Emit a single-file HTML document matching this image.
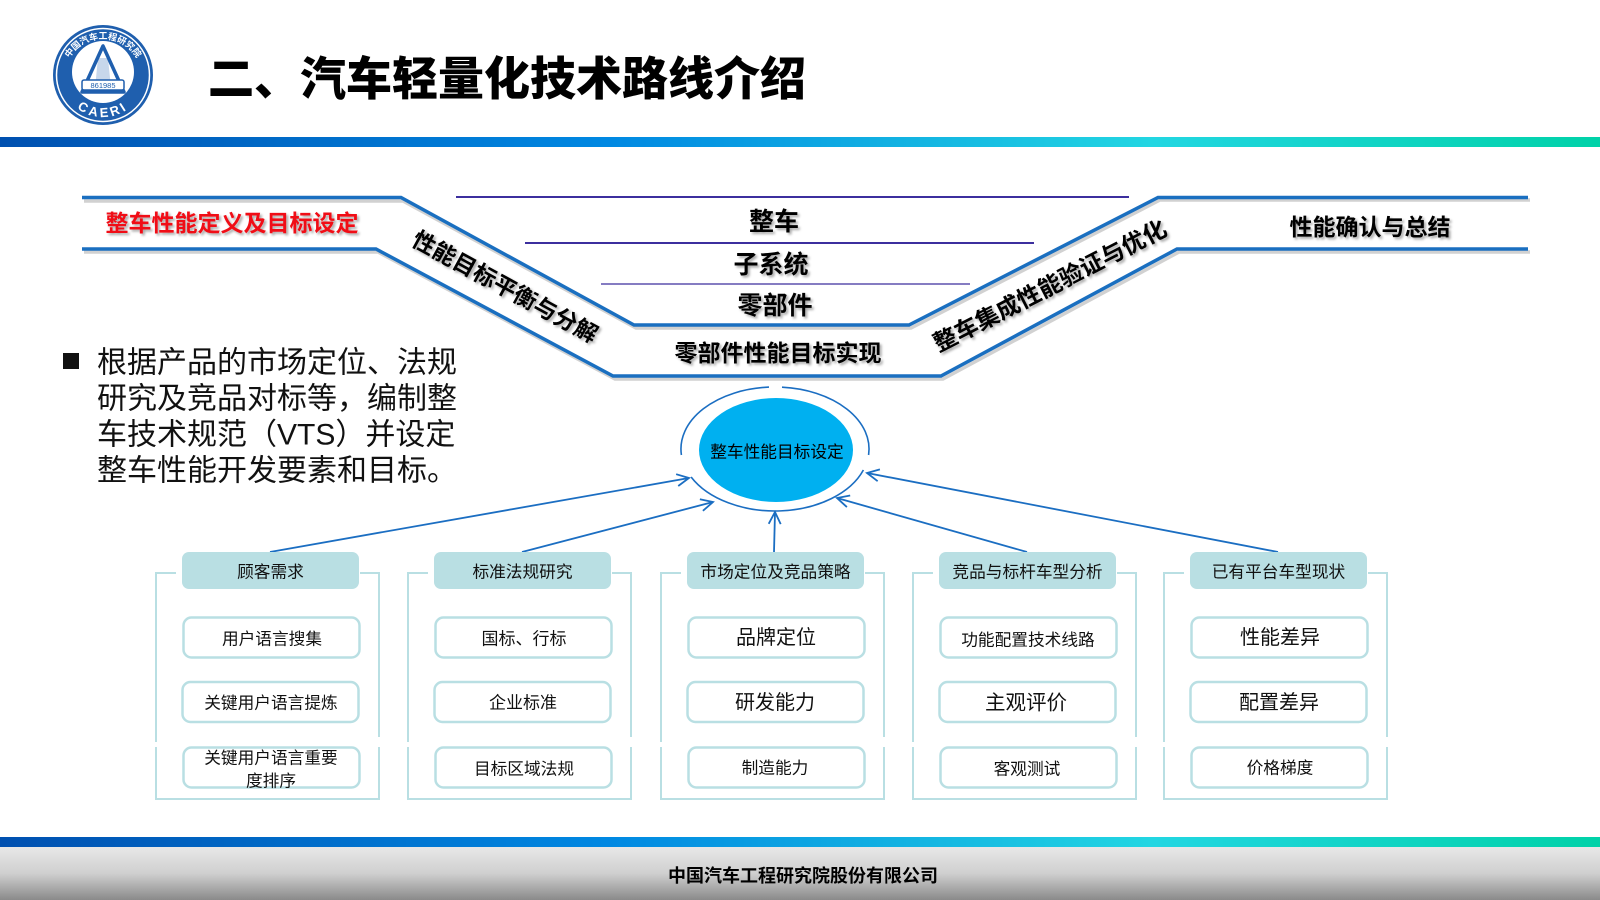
<!DOCTYPE html>
<html>
<head>
<meta charset="utf-8">
<style>
html,body{margin:0;padding:0;background:#fff;}
body{width:1600px;height:900px;overflow:hidden;}
svg{display:block;}
text{font-family:"Liberation Sans","Noto Sans CJK SC","WenQuanYi Zen Hei",sans-serif;}
</style>
</head>
<body>
<svg width="1600" height="900" viewBox="0 0 1600 900" xmlns="http://www.w3.org/2000/svg">
<defs>
  <linearGradient id="bar" x1="0" y1="0" x2="1" y2="0">
    <stop offset="0" stop-color="#0050b0"/>
    <stop offset="0.38" stop-color="#0088e2"/>
    <stop offset="0.72" stop-color="#22d6e2"/>
    <stop offset="1" stop-color="#00d2a8"/>
  </linearGradient>
  <linearGradient id="foot" x1="0" y1="0" x2="0" y2="1">
    <stop offset="0" stop-color="#e8e8e8"/>
    <stop offset="0.5" stop-color="#cfcfcf"/>
    <stop offset="1" stop-color="#8a8a8a"/>
  </linearGradient>
  <filter id="sh" x="-10%" y="-30%" width="130%" height="170%">
    <feDropShadow dx="2" dy="2" stdDeviation="1.2" flood-color="#000" flood-opacity="0.35"/>
  </filter>
  <marker id="ah" markerUnits="userSpaceOnUse" markerWidth="16" markerHeight="16" refX="13" refY="7" orient="auto">
    <path d="M1,1 L13,7 L1,13" fill="none" stroke="#1b6ec2" stroke-width="1.8"/>
  </marker>
  <path id="topArc" d="M64,78 A39,39 0 0 1 142,78"/>
  <path id="botArc" d="M60,74 A43,43 0 0 0 146,74"/>
</defs>

<!-- Logo -->
<circle cx="103" cy="75" r="50" fill="#1f5fae"/>
<circle cx="103" cy="75" r="46.5" fill="none" stroke="#fff" stroke-width="1.5"/>
<circle cx="103" cy="72" r="31" fill="#fff"/>
<path d="M103,46 L82,92 L124,92 Z" fill="#fff" stroke="#1f5fae" stroke-width="3.5" stroke-linejoin="round"/>
<path d="M98,58 L95,88 L111,88 L108,58 Z" fill="#1f5fae" opacity="0.25"/>
<rect x="82" y="80" width="42" height="10" rx="2" fill="#fff" stroke="#1f5fae" stroke-width="1.5"/>
<text x="103" y="85.5" font-size="7.5" fill="#1f5fae" text-anchor="middle" dominant-baseline="central">861985</text>
<text font-size="9" fill="#fff" font-weight="bold"><textPath href="#topArc" startOffset="50%" text-anchor="middle">中国汽车工程研究院</textPath></text>
<text font-size="13" fill="#fff" font-weight="bold" letter-spacing="3"><textPath href="#botArc" startOffset="50%" text-anchor="middle">CAERI</textPath></text>

<!-- Title -->
<text x="208" y="79" font-size="46" font-weight="900" fill="#000" dominant-baseline="central">二、汽车轻量化技术路线介绍</text>

<!-- Top bar -->
<rect x="0" y="137" width="1600" height="10" fill="url(#bar)"/>

<!-- V diagram shadows -->
<polyline points="84,201 403,201 636,328 911,328 1160,200 1530,200" fill="none" stroke="#000" stroke-opacity="0.18" stroke-width="3.5"/>
<polyline points="84,252 378,252 615,379 943,379 1179,252 1530,252" fill="none" stroke="#000" stroke-opacity="0.18" stroke-width="3.5"/>
<!-- V diagram lines -->
<polyline points="82,197.5 401,197.5 634,325 909,325 1158,197.5 1528,197.5" fill="none" stroke="#1a6fc0" stroke-width="3.5"/>
<polyline points="82,249 376,249 613,376 941,376 1177,249 1528,249" fill="none" stroke="#1a6fc0" stroke-width="3.5"/>

<!-- purple lines -->
<line x1="456" y1="197" x2="1129" y2="197" stroke="#3c2f9e" stroke-width="2"/>
<line x1="525" y1="243" x2="1034" y2="243" stroke="#3c2f9e" stroke-width="2"/>
<line x1="601" y1="284" x2="970" y2="284" stroke="#3c2f9e" stroke-width="1.3"/>

<!-- V labels -->
<g font-weight="bold" text-anchor="middle" dominant-baseline="central" filter="url(#sh)">
  <text x="232" y="223" font-size="23" fill="#f00a14">整车性能定义及目标设定</text>
  <text x="774" y="222" font-size="25" fill="#000">整车</text>
  <text x="771" y="265" font-size="25" fill="#000">子系统</text>
  <text x="775" y="306" font-size="25" fill="#000">零部件</text>
  <text x="778" y="353" font-size="23" fill="#000">零部件性能目标实现</text>
  <text x="1370" y="227" font-size="23" fill="#000">性能确认与总结</text>
  <text x="0" y="0" font-size="23" fill="#000" transform="translate(505,287) rotate(28.6)">性能目标平衡与分解</text>
  <text x="0" y="0" font-size="23.5" fill="#000" transform="translate(1050,286) rotate(-27.2)">整车集成性能验证与优化</text>
</g>

<!-- Bullet text -->
<rect x="63" y="353" width="16" height="16" fill="#111"/>
<g font-size="30" fill="#111" dominant-baseline="central">
  <text x="97" y="363">根据产品的市场定位、法规</text>
  <text x="97" y="399">研究及竞品对标等，编制整</text>
  <text x="97" y="435">车技术规范（VTS）并设定</text>
  <text x="97" y="471">整车性能开发要素和目标。</text>
</g>

<!-- Center ellipse -->
<ellipse cx="776" cy="450" rx="77" ry="52" fill="#00b0f0"/>
<text x="777" y="452" font-size="16.7" fill="#000" text-anchor="middle" dominant-baseline="central">整车性能目标设定</text>
<g fill="none" stroke="#1b6ec2" stroke-width="1.6">
  <path d="M769,387.1 A94,62 0 0 0 681.4,455"/>
  <path d="M782,387.2 A94,62 0 0 1 868.6,455"/>
  <path d="M691.1,477 A94,62 0 0 0 863.4,470"/>
</g>

<!-- Arrows -->
<g stroke="#1b6ec2" stroke-width="1.8" fill="none" marker-end="url(#ah)">
  <line x1="270" y1="552" x2="689" y2="478"/>
  <line x1="522" y1="552" x2="713" y2="502"/>
  <line x1="774" y1="552" x2="775" y2="512"/>
  <line x1="1027" y1="552" x2="837" y2="498"/>
  <line x1="1278" y1="552" x2="867" y2="473"/>
</g>

<!-- Group frames -->
<g fill="none" stroke="#b9dfe3" stroke-width="2">
  <path d="M176,573H156V742M156,747V799H379V747M379,737V573H360"/>
  <path d="M428,573H408V742M408,747V799H631V747M631,737V573H612"/>
  <path d="M681,573H661V742M661,747V799H884V747M884,737V573H865"/>
  <path d="M933,573H913V742M913,747V799H1136V747M1136,737V573H1117"/>
  <path d="M1184,573H1164V742M1164,747V799H1387V747M1387,737V573H1368"/>
</g>

<!-- Headers -->
<g fill="#b9dfe3">
  <rect x="182" y="552" width="177" height="37" rx="7"/>
  <rect x="434" y="552" width="177" height="37" rx="7"/>
  <rect x="687" y="552" width="177" height="37" rx="7"/>
  <rect x="939" y="552" width="177" height="37" rx="7"/>
  <rect x="1190" y="552" width="177" height="37" rx="7"/>
</g>
<g font-size="16.7" fill="#111" text-anchor="middle" dominant-baseline="central">
  <text x="270.5" y="572">顾客需求</text>
  <text x="522.5" y="572">标准法规研究</text>
  <text x="775.5" y="572">市场定位及竞品策略</text>
  <text x="1027.5" y="572">竞品与标杆车型分析</text>
  <text x="1278.5" y="572">已有平台车型现状</text>
</g>

<!-- Items -->
<g fill="#fff" stroke="#b9dfe3" stroke-width="2.5">
  <rect x="183.5" y="617.5" width="176" height="40" rx="8"/>
  <rect x="182.5" y="682" width="176" height="40" rx="8"/>
  <rect x="183.5" y="747.5" width="176" height="40" rx="8"/>
  <rect x="435.5" y="617.5" width="176" height="40" rx="8"/>
  <rect x="434.5" y="682" width="176" height="40" rx="8"/>
  <rect x="435.5" y="747.5" width="176" height="40" rx="8"/>
  <rect x="688.5" y="617.5" width="176" height="40" rx="8"/>
  <rect x="687.5" y="682" width="176" height="40" rx="8"/>
  <rect x="688.5" y="747.5" width="176" height="40" rx="8"/>
  <rect x="940.5" y="617.5" width="176" height="40" rx="8"/>
  <rect x="939.5" y="682" width="176" height="40" rx="8"/>
  <rect x="940.5" y="747.5" width="176" height="40" rx="8"/>
  <rect x="1191.5" y="617.5" width="176" height="40" rx="8"/>
  <rect x="1190.5" y="682" width="176" height="40" rx="8"/>
  <rect x="1191.5" y="747.5" width="176" height="40" rx="8"/>
</g>
<g fill="#111" text-anchor="middle" dominant-baseline="central">
  <text x="272" y="639" font-size="16.7">用户语言搜集</text>
  <text x="271" y="703" font-size="16.7">关键用户语言提炼</text>
  <text x="271" y="758" font-size="16.7">关键用户语言重要</text>
  <text x="271" y="781" font-size="16.7">度排序</text>

  <text x="524" y="639" font-size="17">国标、行标</text>
  <text x="523" y="703" font-size="17">企业标准</text>
  <text x="524" y="769" font-size="16.7">目标区域法规</text>

  <text x="776" y="638" font-size="20">品牌定位</text>
  <text x="775" y="703" font-size="20">研发能力</text>
  <text x="775" y="768" font-size="16.7">制造能力</text>

  <text x="1028" y="640" font-size="16.7">功能配置技术线路</text>
  <text x="1026" y="703" font-size="20.5">主观评价</text>
  <text x="1027" y="769" font-size="16.7">客观测试</text>

  <text x="1280" y="638" font-size="20">性能差异</text>
  <text x="1279" y="703" font-size="20">配置差异</text>
  <text x="1280" y="768" font-size="16.7">价格梯度</text>
</g>

<!-- Bottom bar and footer -->
<rect x="0" y="837" width="1600" height="10" fill="url(#bar)"/>
<rect x="0" y="847" width="1600" height="53" fill="url(#foot)"/>
<text x="803" y="876" font-size="18" font-weight="bold" fill="#000" text-anchor="middle" dominant-baseline="central">中国汽车工程研究院股份有限公司</text>
</svg>
</body>
</html>
